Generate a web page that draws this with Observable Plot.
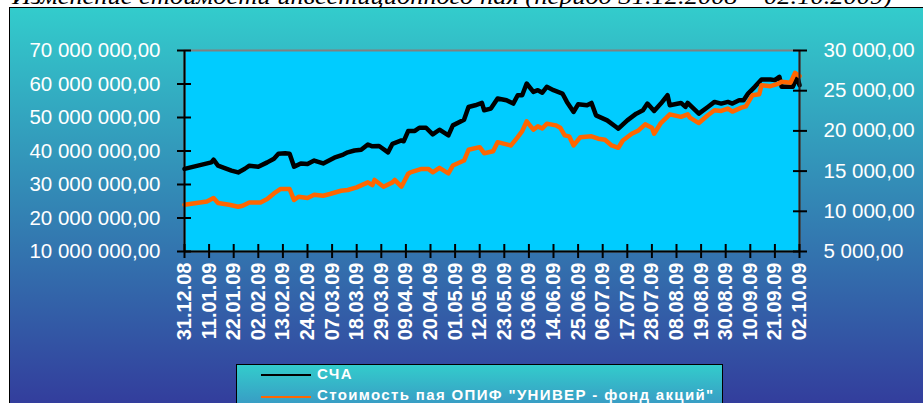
<!DOCTYPE html>
<html>
<head>
<meta charset="utf-8">
<script src="https://cdn.jsdelivr.net/npm/d3@7"></script>
<script src="https://cdn.jsdelivr.net/npm/@observablehq/plot@0.6"></script>
<style>
  html, body { margin: 0; padding: 0; background: #ffffff; width: 923px; height: 403px; overflow: hidden; }
  #title { position: absolute; left: 0; top: 0; }
  #bg { position: absolute; left: 9px; top: 7px; width: 930px; height: 424px; border: 1px solid #000;
        background: linear-gradient(#33CCCC, #333399); }
  #chart { position: absolute; left: 0; top: 0; }
  #legend { position: absolute; left: 236px; top: 364px; width: 485px; height: 60px; border: 1px solid #000;
            background: linear-gradient(#33CCCC 0px, #3A8FC2 50px); font-family: "Liberation Sans", Arial, sans-serif; }
  .sw { position: absolute; left: 24px; width: 50px; height: 0; border-top: 2px solid; }
  .lbl { position: absolute; left: 80px; white-space: nowrap; color: #fff; font-weight: bold; font-size: 15px; letter-spacing: 1.35px; }
</style>
</head>
<body>
<svg id="title" width="923" height="12"><text x="12" y="3.5" textLength="880" lengthAdjust="spacingAndGlyphs" font-family="'Liberation Serif', 'Times New Roman', serif" font-style="italic" font-size="24" fill="#000">Изменение стоимости инвестиционного пая (период 31.12.2008 – 02.10.2009)</text></svg>
<div id="bg"></div>
<div id="chart"></div>
<div id="legend">
  <div class="sw" style="top:9px;border-color:#000;"></div>
  <div class="lbl" style="top:0px;">СЧА</div>
  <div class="sw" style="top:31px;border-color:#FF6600;"></div>
  <div class="lbl" style="top:21px;">Стоимость пая ОПИФ "УНИВЕР - фонд акций"</div>
</div>
<script>
// ---- data ----
const seriesNames = ["СЧА", "Стоимость пая ОПИФ \"УНИВЕР - фонд акций\""];

const scaDates = ["2008-12-31","2009-01-12","2009-01-13","2009-01-15","2009-01-21","2009-01-24","2009-01-27","2009-01-29",
"2009-02-02","2009-02-06","2009-02-09","2009-02-11","2009-02-14","2009-02-16","2009-02-18","2009-02-21","2009-02-24","2009-02-27",
"2009-03-03","2009-03-08","2009-03-12","2009-03-14","2009-03-17","2009-03-20","2009-03-23","2009-03-25","2009-03-28",
"2009-04-01","2009-04-03","2009-04-07","2009-04-08","2009-04-10","2009-04-13","2009-04-15","2009-04-18","2009-04-21","2009-04-24","2009-04-28","2009-04-30",
"2009-05-05","2009-05-07","2009-05-10","2009-05-13","2009-05-14","2009-05-17","2009-05-20","2009-05-24","2009-05-27","2009-05-29","2009-05-31",
"2009-06-02","2009-06-05","2009-06-07","2009-06-09","2009-06-11","2009-06-14","2009-06-18","2009-06-20","2009-06-23","2009-06-25","2009-06-29",
"2009-07-01","2009-07-03","2009-07-08","2009-07-12","2009-07-13","2009-07-17","2009-07-21","2009-07-24","2009-07-26","2009-07-29",
"2009-08-01","2009-08-04","2009-08-05","2009-08-10","2009-08-12","2009-08-13","2009-08-18","2009-08-22","2009-08-25","2009-08-28","2009-08-31",
"2009-09-02","2009-09-05","2009-09-07","2009-09-09","2009-09-12","2009-09-15","2009-09-19","2009-09-21","2009-09-23","2009-09-24","2009-09-29",
"2009-10-01","2009-10-02"];
const scaValues = [34660000,36600000,37400000,35600000,34150000,33600000,34700000,35600000,
35300000,36600000,37700000,39200000,39300000,39200000,35300000,36300000,36100000,37150000,
36300000,38000000,38950000,39600000,40150000,40350000,41950000,41400000,41500000,
39600000,42150000,43150000,42900000,45950000,46000000,46950000,46950000,44950000,46350000,44650000,47650000,
49350000,53150000,53650000,54350000,52150000,52650000,55650000,55150000,54150000,56650000,56650000,
60150000,57650000,58150000,57400000,59150000,58150000,57150000,54650000,51650000,53950000,53650000,
54350000,50650000,49150000,47150000,46650000,49150000,51150000,52150000,54150000,51950000,
54150000,56650000,53650000,54350000,53150000,54350000,51150000,53150000,54650000,54150000,54650000,
54150000,55150000,55150000,57150000,59150000,61350000,61350000,61150000,62150000,59150000,59150000,
62150000,59650000];

const paiDates = ["2008-12-31","2009-01-10","2009-01-13","2009-01-15","2009-01-20","2009-01-24","2009-01-26","2009-01-29",
"2009-02-03","2009-02-06","2009-02-09","2009-02-12","2009-02-16","2009-02-18","2009-02-20","2009-02-24","2009-02-27",
"2009-03-03","2009-03-06","2009-03-11","2009-03-14","2009-03-18","2009-03-23","2009-03-25","2009-03-26","2009-03-30",
"2009-04-03","2009-04-04","2009-04-07","2009-04-10","2009-04-11","2009-04-16","2009-04-19","2009-04-21","2009-04-24","2009-04-28","2009-04-30",
"2009-05-05","2009-05-07","2009-05-12","2009-05-14","2009-05-18","2009-05-20","2009-05-26","2009-05-29","2009-05-31",
"2009-06-02","2009-06-05","2009-06-07","2009-06-09","2009-06-11","2009-06-15","2009-06-17","2009-06-19","2009-06-21","2009-06-23","2009-06-26",
"2009-07-01","2009-07-04","2009-07-07","2009-07-10","2009-07-13","2009-07-15","2009-07-19","2009-07-22","2009-07-25","2009-07-28","2009-07-29",
"2009-08-01","2009-08-05","2009-08-10","2009-08-13","2009-08-14","2009-08-18","2009-08-22","2009-08-25","2009-08-28","2009-08-31",
"2009-09-02","2009-09-06","2009-09-08","2009-09-11","2009-09-14","2009-09-15","2009-09-19","2009-09-22","2009-09-24","2009-09-28","2009-09-30",
"2009-10-02"];
const paiValues = [10810,11225,11650,11025,10810,10560,10690,11100,
11100,11525,12225,12775,12775,11400,11810,11650,12060,
11935,12150,12560,12650,12975,13600,13260,13900,13060,
13600,13900,13060,14650,14850,15275,15275,14850,15400,14725,15690,
16310,17650,17975,17225,17475,18600,18190,19225,19975,
21190,20150,20560,20300,20900,20690,20400,19440,19320,18190,19225,
19320,19025,18900,18190,17900,18810,19650,20060,20810,20400,19650,
20975,22060,21750,22060,21650,20975,21940,22560,22480,22775,
22400,22900,23060,24440,24560,25690,25560,25810,26100,26000,27225,
26810];

const xTickLabels = ["31.12.08","11.01.09","22.01.09","02.02.09","13.02.09","24.02.09","07.03.09","18.03.09","29.03.09",
"09.04.09","20.04.09","01.05.09","12.05.09","23.05.09","03.06.09","14.06.09","25.06.09","06.07.09","17.07.09","28.07.09",
"08.08.09","19.08.09","30.08.09","10.09.09","21.09.09","02.10.09"];
const leftTicks = [10000000,20000000,30000000,40000000,50000000,60000000,70000000];
const rightTicks = [5000,10000,15000,20000,25000,30000];

// ---- helpers ----
const parseLabel = s => { const [d, m, y] = s.split("."); return new Date(Date.UTC(2000 + +y, +m - 1, +d)); };
const xTicks = xTickLabels.map(parseLabel);
const loc = d3.formatLocale({decimal: ",", thousands: "\u00a0", grouping: [3], currency: ["", ""]});
const fmt2 = loc.format(",.2f");
const fmtDate = d3.utcFormat("%d.%m.%y");
const lMin = leftTicks[0], lMax = leftTicks[leftTicks.length - 1];
const rMin = rightTicks[0], rMax = rightTicks[rightTicks.length - 1];
const toLeft = v => lMin + (v - rMin) * (lMax - lMin) / (rMax - rMin);
const toRight = v => rMin + (v - lMin) * (rMax - rMin) / (lMax - lMin);

const sca = scaDates.map((d, i) => ({date: new Date(d), value: scaValues[i], series: seriesNames[0]}));
const pai = paiDates.map((d, i) => ({date: new Date(d), value: paiValues[i], series: seriesNames[1]}));

const font = "'Liberation Sans', Arial, sans-serif";
const chart = Plot.plot({
  width: 923, height: 360,
  marginLeft: 184, marginRight: 124, marginTop: 50, marginBottom: 109,
  style: {background: "transparent", overflow: "visible", fontFamily: font},
  x: {type: "utc", domain: [xTicks[0], xTicks[xTicks.length - 1]]},
  y: {domain: [lMin, lMax]},
  marks: [
    Plot.frame({fill: "#00CCFF", stroke: "#808080", strokeWidth: 2}),
    Plot.line(sca, {x: "date", y: "value", stroke: "#000000", strokeWidth: 4.5}),
    Plot.line(pai, {x: "date", y: d => toLeft(d.value), stroke: "#FF6600", strokeWidth: 4.5}),
    // axis lines
    Plot.ruleY([lMin], {stroke: "#000", strokeWidth: 2}),
    Plot.ruleX([xTicks[0]], {stroke: "#000", strokeWidth: 2}),
    Plot.ruleX([xTicks[xTicks.length - 1]], {stroke: "#222", strokeWidth: 2}),
    // crossing tick marks
    Plot.axisY({anchor: "left", ticks: leftTicks, tickSize: 14, dx: 7, tickFormat: () => null, label: null, stroke: "#000", strokeWidth: 2}),
    Plot.axisY({anchor: "right", ticks: rightTicks.map(toLeft), tickSize: 14, dx: -7, tickFormat: () => null, label: null, stroke: "#000", strokeWidth: 2}),
    Plot.axisX({anchor: "bottom", ticks: xTicks, tickSize: 14, dy: -7, tickFormat: () => null, label: null, stroke: "#000", strokeWidth: 2}),
    // labels
    Plot.axisY({anchor: "left", ticks: leftTicks, tickSize: 0, tickPadding: 24, tickFormat: fmt2, label: null, fill: "#fff", fontSize: 20.5}),
    Plot.axisY({anchor: "right", ticks: rightTicks.map(toLeft), tickSize: 0, tickPadding: 24, tickFormat: d => fmt2(toRight(d)), label: null, fill: "#fff", fontSize: 20.5}),
    Plot.axisX({anchor: "bottom", ticks: xTicks, tickSize: 0, tickPadding: 11, tickRotate: -90, tickFormat: fmtDate, label: null, fill: "#fff", fontSize: 20, fontWeight: "bold"})
  ]
});
document.getElementById("chart").appendChild(chart);
</script>
</body>
</html>
